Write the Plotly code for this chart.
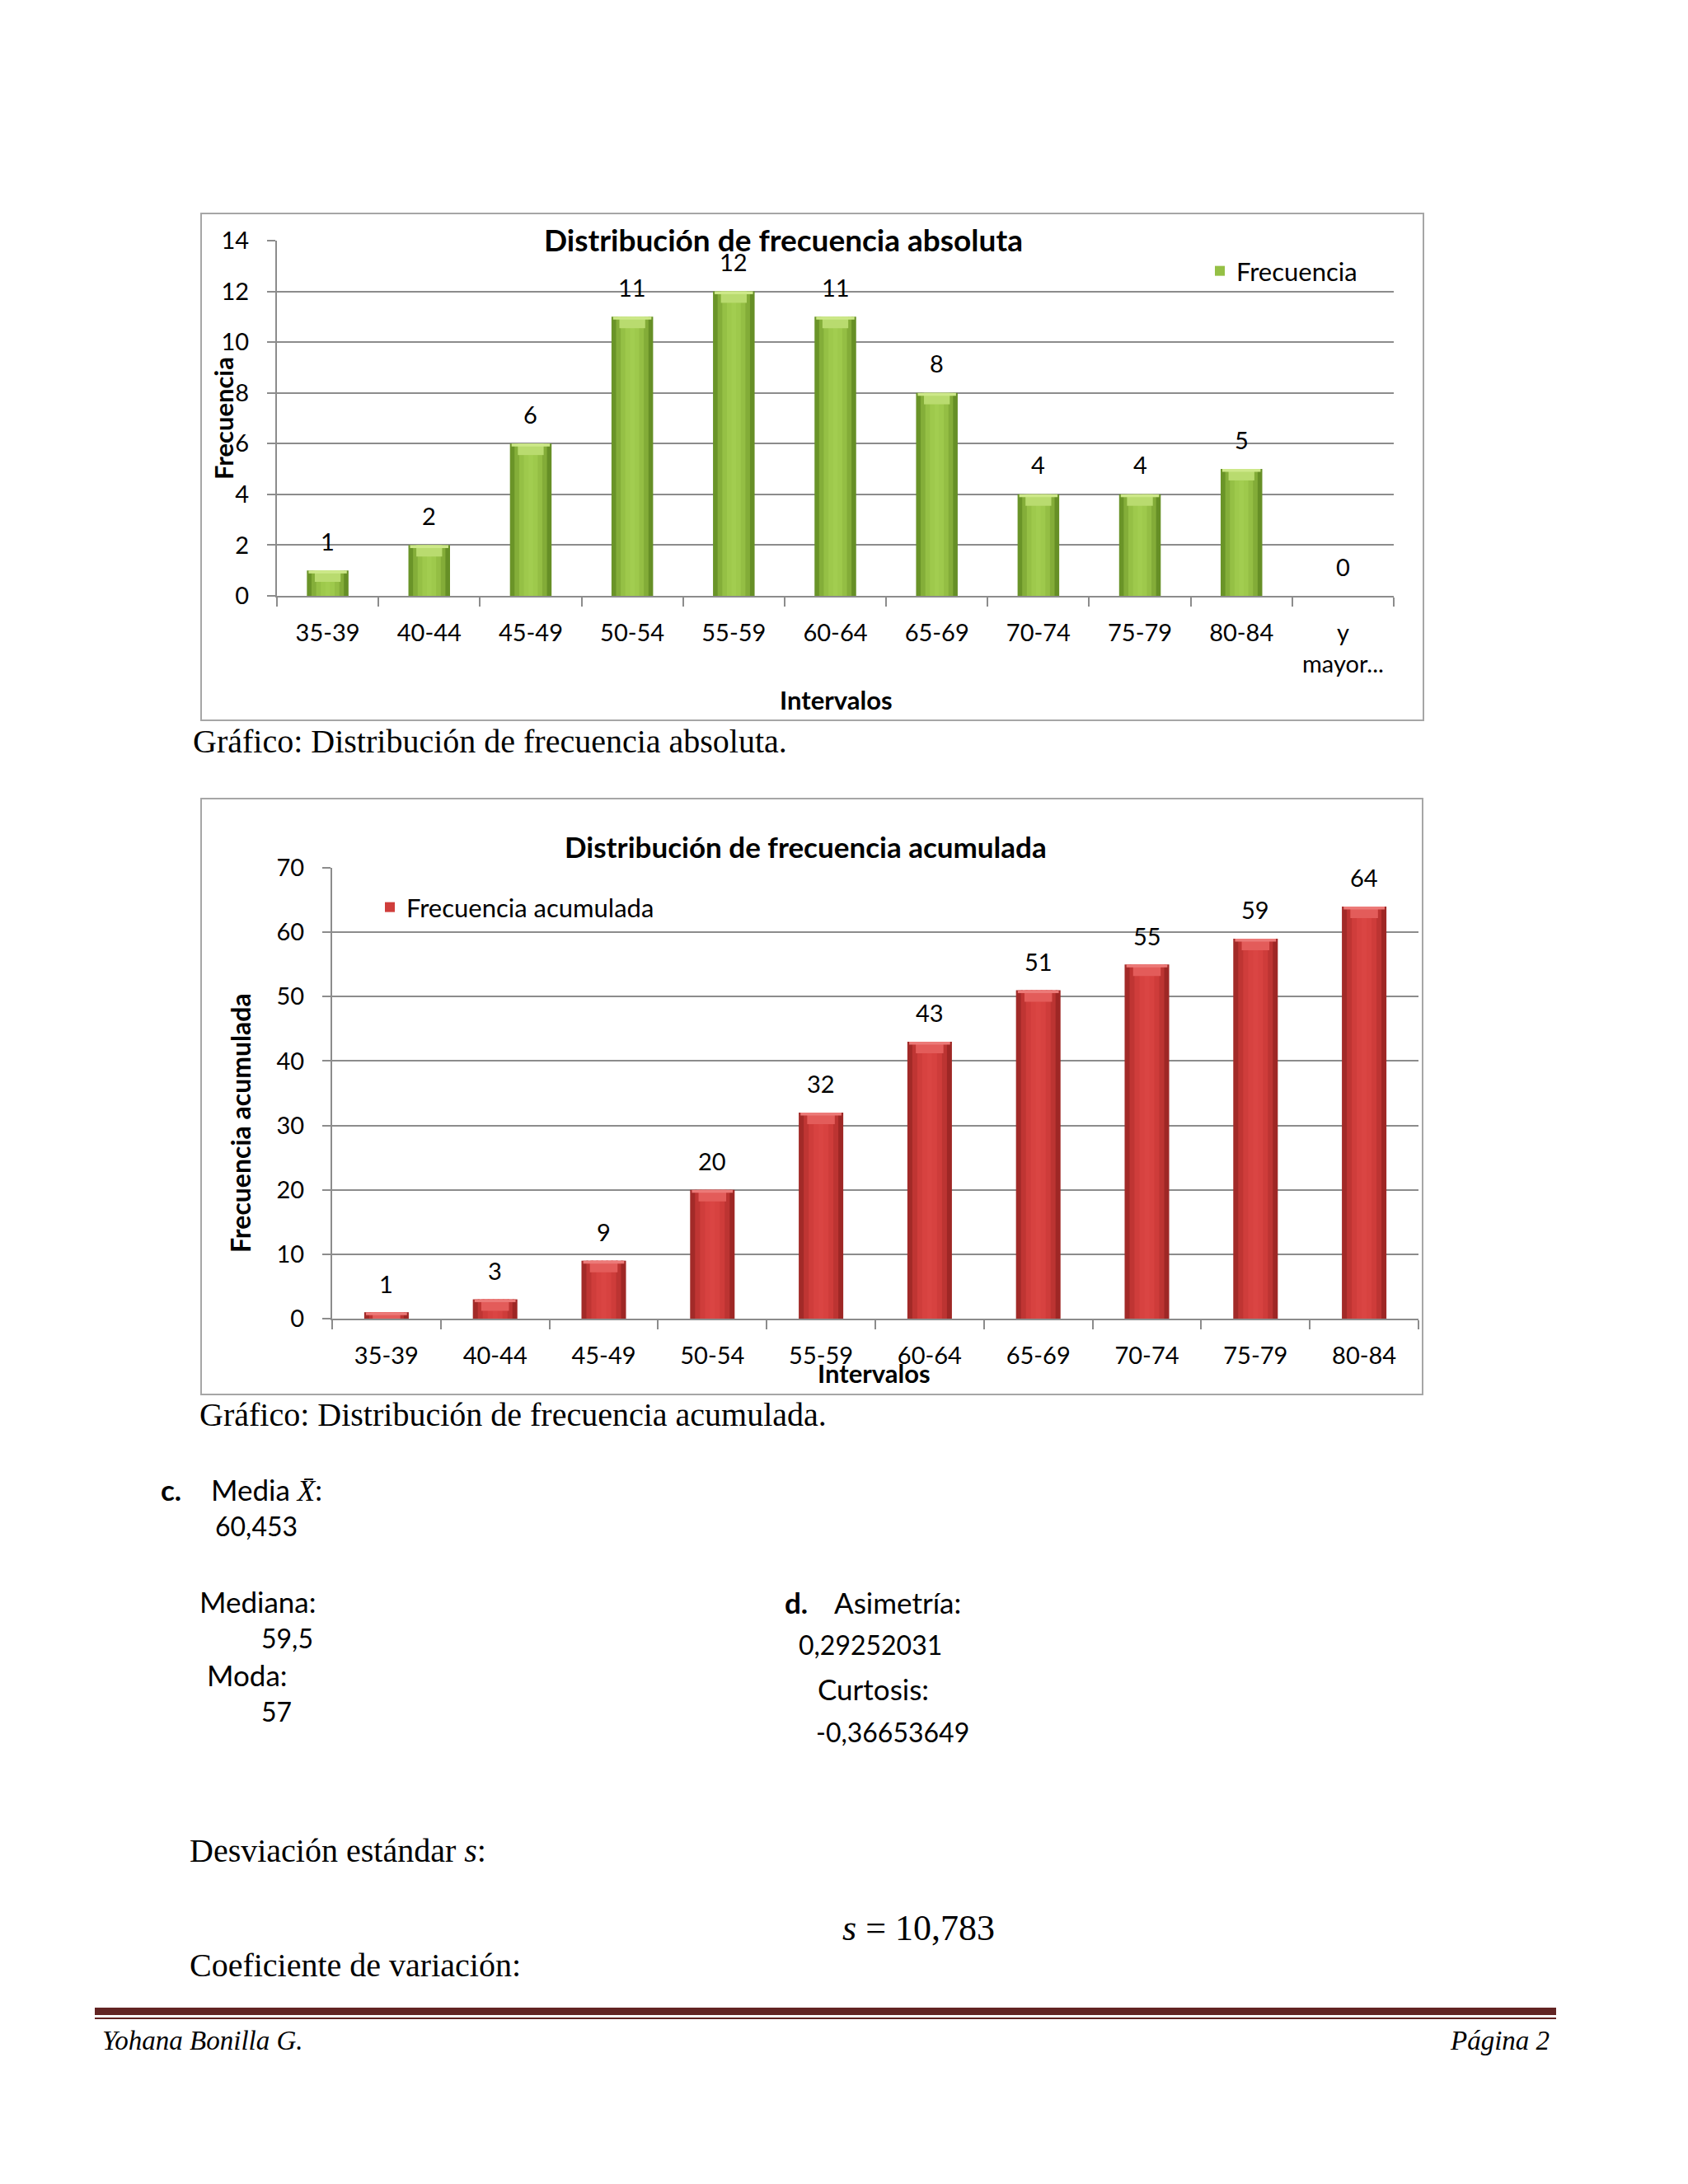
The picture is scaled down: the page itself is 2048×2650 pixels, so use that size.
import plotly.graph_objects as go

# ---------------- data ----------------
CATEGORIES_ABS = ["35-39", "40-44", "45-49", "50-54", "55-59", "60-64",
                  "65-69", "70-74", "75-79", "80-84", "y mayor..."]
TICK_LABELS_ABS = ["35-39", "40-44", "45-49", "50-54", "55-59", "60-64",
                   "65-69", "70-74", "75-79", "80-84", "y<br>mayor..."]
FRECUENCIA = [1, 2, 6, 11, 12, 11, 8, 4, 4, 5, 0]

CATEGORIES_ACUM = ["35-39", "40-44", "45-49", "50-54", "55-59", "60-64",
                   "65-69", "70-74", "75-79", "80-84"]
FRECUENCIA_ACUM = [1, 3, 9, 20, 32, 43, 51, 55, 59, 64]

Y_TICKS_ABS = [0, 2, 4, 6, 8, 10, 12, 14]
Y_TICKS_ACUM = [0, 10, 20, 30, 40, 50, 60, 70]

# ---------------- page geometry helpers (page pixels -> paper) ----------------
OFF = 8                      # default body margin of the html page
W, H = 2048 - 2 * OFF, 2650 - 2 * OFF


def fx(p):
    return (p - OFF) / W


def fy(p):
    return 1 - (p - OFF) / H


SANS = "Lato"
SERIF = "Liberation Serif"
GRID = "#8c8c8c"
BORDER = "#a6a6a6"

GREEN_STRIPES = ["#6a9428", "#84ae39", "#95c045", "#9ec94c", "#a2cd50",
                 "#9ec94c", "#94be44", "#83ac38", "#668f26"]
GREEN_BEVEL = "#b9db6f"
GREEN_TOP = "#cde889"
RED_STRIPES = ["#a22a28", "#bf3533", "#cf3d3b", "#d74240", "#da4543",
               "#d74240", "#ce3c3a", "#bc3432", "#9e2725"]
RED_BEVEL = "#e35c5a"
RED_TOP = "#ec7a78"

fig = go.Figure()


def add_bars(cats, vals, xa, ya, stripes, bevel_color, top_color, bevel_depth,
             total_w, name, legend_id):
    n = len(stripes)
    step = total_w / n
    for i, col in enumerate(stripes):
        w = step * 1.35 if i < n - 1 else step
        fig.add_trace(go.Bar(
            x=cats, y=vals, xaxis=xa, yaxis=ya,
            width=w, offset=-total_w / 2 + i * step,
            marker=dict(color=col, line=dict(width=0)),
            name=name, legend=legend_id,
            showlegend=(i == 2), hoverinfo="skip"))
    # bevel highlight at the top of each bar
    depth = [min(v, bevel_depth) for v in vals]
    base = [v - d for v, d in zip(vals, depth)]
    fig.add_trace(go.Bar(
        x=cats, y=depth, base=base, xaxis=xa, yaxis=ya,
        width=total_w * 0.62, offset=-total_w * 0.31,
        marker=dict(color=bevel_color, line=dict(width=0)),
        showlegend=False, hoverinfo="skip"))
    thin = [min(v, bevel_depth * 0.25) for v in vals]
    tbase = [v - d for v, d in zip(vals, thin)]
    fig.add_trace(go.Bar(
        x=cats, y=thin, base=tbase, xaxis=xa, yaxis=ya,
        width=total_w * 0.92, offset=-total_w * 0.46,
        marker=dict(color=top_color, line=dict(width=0)),
        showlegend=False, hoverinfo="skip"))


BAR_W = 0.41
add_bars(CATEGORIES_ABS, FRECUENCIA, "x", "y", GREEN_STRIPES, GREEN_BEVEL,
         GREEN_TOP, 0.45, BAR_W, "Frecuencia", "legend")
add_bars(CATEGORIES_ACUM, FRECUENCIA_ACUM, "x2", "y2", RED_STRIPES, RED_BEVEL,
         RED_TOP, 1.8, BAR_W, "Frecuencia acumulada", "legend2")

tickfont = dict(family=SANS, size=29, color="black")

common_x = dict(type="category", tickson="boundaries", ticks="outside",
                ticklen=11, tickwidth=2, tickcolor=GRID, showline=True,
                linecolor=GRID, linewidth=2, showgrid=False, zeroline=False,
                tickfont=tickfont, fixedrange=True, ticklabelstandoff=18,
                automargin=False)
common_y = dict(ticks="outside", ticklen=10, tickwidth=2, tickcolor=GRID,
                showline=True, linecolor=GRID, linewidth=2, showgrid=True,
                gridcolor=GRID, gridwidth=2, zeroline=False, tickfont=tickfont,
                fixedrange=True, ticklabelstandoff=16, automargin=False)

fig.update_layout(
    width=W, height=H, autosize=False,
    margin=dict(l=0, r=0, t=0, b=0, pad=0, autoexpand=False),
    paper_bgcolor="white", plot_bgcolor="rgba(0,0,0,0)",
    barmode="overlay",
    xaxis=dict(common_x, domain=[fx(336), fx(1691)], anchor="y",
               range=[-0.5, len(CATEGORIES_ABS) - 0.5],
               categoryorder="array", categoryarray=CATEGORIES_ABS,
               tickmode="array", tickvals=CATEGORIES_ABS,
               ticktext=TICK_LABELS_ABS),
    yaxis=dict(common_y, domain=[fy(723), fy(292)], anchor="x",
               range=[0, 14], tickvals=Y_TICKS_ABS),
    xaxis2=dict(common_x, domain=[fx(403), fx(1721)], anchor="y2",
                range=[-0.5, len(CATEGORIES_ACUM) - 0.5],
                categoryorder="array", categoryarray=CATEGORIES_ACUM),
    yaxis2=dict(common_y, domain=[fy(1600), fy(1053)], anchor="x2",
                range=[0, 70], tickvals=Y_TICKS_ACUM),
    legend=dict(x=fx(1460), y=fy(329), xanchor="left", yanchor="middle",
                font=dict(family=SANS, size=31, color="black"),
                bgcolor="rgba(0,0,0,0)", borderwidth=0, itemclick=False),
    legend2=dict(x=fx(453), y=fy(1101), xanchor="left", yanchor="middle",
                 font=dict(family=SANS, size=31, color="black"),
                 bgcolor="rgba(0,0,0,0)", borderwidth=0, itemclick=False),
    showlegend=True,
)

# chart frames
shapes = [
    dict(type="rect", xref="paper", yref="paper", x0=fx(244), x1=fx(1727),
         y0=fy(874), y1=fy(259), line=dict(color=BORDER, width=2)),
    dict(type="rect", xref="paper", yref="paper", x0=fx(244), x1=fx(1726),
         y0=fy(1692), y1=fy(969), line=dict(color=BORDER, width=2)),
    # footer rules
    dict(type="rect", xref="paper", yref="paper", x0=fx(115), x1=fx(1888),
         y0=fy(2445), y1=fy(2436), line=dict(width=0), fillcolor="#622423"),
    dict(type="line", xref="paper", yref="paper", x0=fx(115), x1=fx(1888),
         y0=fy(2449), y1=fy(2449), line=dict(color="#622423", width=2)),
]
fig.update_layout(shapes=shapes)

ann = []


def txt(x, y, s, size, family=SANS, anchor="left", bold=False, italic=False,
        angle=0):
    if bold:
        s = "<b>" + s + "</b>"
    if italic:
        s = "<i>" + s + "</i>"
    ann.append(dict(x=fx(x), y=fy(y), xref="paper", yref="paper", text=s,
                    showarrow=False, xanchor=anchor, yanchor="middle",
                    textangle=angle,
                    font=dict(family=family, size=size, color="black")))


# data labels
for c, v in zip(CATEGORIES_ABS, FRECUENCIA):
    ann.append(dict(x=c, y=v, xref="x", yref="y", text=str(v), showarrow=False,
                    yshift=36, font=tickfont))
for c, v in zip(CATEGORIES_ACUM, FRECUENCIA_ACUM):
    ann.append(dict(x=c, y=v, xref="x2", yref="y2", text=str(v),
                    showarrow=False, yshift=35, font=tickfont))

# chart titles & axis titles
txt(950, 290, "Distribución de frecuencia absoluta", 37, anchor="center", bold=True)
txt(977, 1027, "Distribución de frecuencia acumulada", 35, anchor="center", bold=True)
txt(1014, 849, "Intervalos", 31, anchor="center", bold=True)
txt(1060, 1666, "Intervalos", 31, anchor="center", bold=True)
txt(271, 508, "Frecuencia", 31, anchor="center", bold=True, angle=-90)
txt(291, 1363, "Frecuencia acumulada", 32, anchor="center", bold=True, angle=-90)

# captions
txt(232, 899, "Gráfico: Distribución de frecuencia absoluta.", 40, family=SERIF)
txt(240, 1716, "Gráfico: Distribución de frecuencia acumulada.", 40, family=SERIF)

# statistics text
WORD = 35
NUM = 32
DY = -4
txt(193, 1811 + DY, "c.", WORD, bold=True)
txt(254, 1811 + DY, "Media <span style='font-family:Liberation Serif'><i>X̄</i></span>:", WORD)
txt(259, 1855 + DY, "60,453", NUM)
txt(240, 1947 + DY, "Mediana:", WORD)
txt(315, 1991 + DY, "59,5", NUM)
txt(249, 2036 + DY, "Moda:", WORD)
txt(315, 2080 + DY, "57", NUM)
txt(950, 1948 + DY, "d.", WORD, bold=True)
txt(1010, 1948 + DY, "Asimetría:", WORD)
txt(967, 2000 + DY, "0,29252031", NUM)
txt(990, 2053 + DY, "Curtosis:", WORD)
txt(988, 2105 + DY, "-0,36653649", NUM)

txt(228, 2249 + DY, "Desviación estándar <i>s</i>:", 40, family=SERIF)
txt(1020, 2343 + DY, "<i>s</i> = 10,783", 44, family=SERIF)
txt(228, 2388 + DY, "Coeficiente de variación:", 40, family=SERIF)

# footer
txt(122, 2476, "Yohana Bonilla G.", 33, family=SERIF, italic=True)
txt(1882, 2476, "Página 2", 33, family=SERIF, anchor="right", italic=True)

fig.update_layout(annotations=ann)

fig.write_html("out.html")
